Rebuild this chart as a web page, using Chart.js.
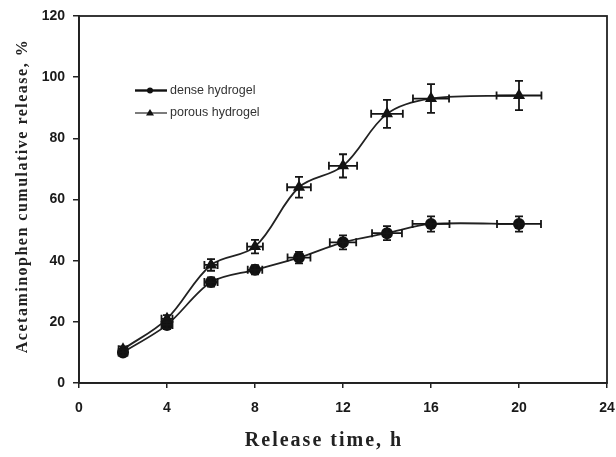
<!DOCTYPE html>
<html>
<head>
<meta charset="utf-8">
<script src="https://cdn.jsdelivr.net/npm/chart.js@4.4.1/dist/chart.umd.min.js"></script>
<style>
  html, body { margin: 0; padding: 0; background: #fff; }
  #wrap { width: 616px; height: 457px; position: relative; }
</style>
</head>
<body>
<div id="wrap"><canvas id="chart"></canvas></div>
<script>
// release time (h)
var hours = [2, 4, 6, 8, 10, 12, 14, 16, 20];

// cumulative release (%)
var denseRelease  = [10, 19, 33, 37, 41, 46, 49, 52, 52];
var porousRelease = [11, 21, 38.6, 44.6, 64, 71, 88, 93, 94];

// error bars (y in %, x in h)
var denseErrY  = [1, 1.2, 1.5, 1.5, 1.9, 2.3, 2.3, 2.5, 2.5];
var denseErrX  = [0.2, 0.25, 0.3, 0.33, 0.52, 0.6, 0.68, 0.84, 1.0];
var porousErrY = [1, 1.2, 1.9, 2.2, 3.4, 3.8, 4.6, 4.7, 4.8];
var porousErrX = [0.2, 0.25, 0.3, 0.36, 0.54, 0.64, 0.72, 0.82, 1.02];

var xTicks = [0, 4, 8, 12, 16, 20, 24];
var yTicks = [0, 20, 40, 60, 80, 100, 120];

var legendNames = ["dense hydrogel", "porous hydrogel"];

function pts(xs, ys) {
    return xs.map(function (x, i) { return { x: x, y: ys[i] }; });
}

// error bars drawn through the chart scales
var errorBars = {
    id: "errorBars",
    afterDatasetsDraw: function (chart) {
        var ctx = chart.ctx, xs = chart.scales.x, ys = chart.scales.y;
        var sets = [
            { v: denseRelease,  ex: denseErrX,  ey: denseErrY },
            { v: porousRelease, ex: porousErrX, ey: porousErrY }
        ];
        ctx.save();
        ctx.strokeStyle = "#151515";
        ctx.lineWidth = 1.8;
        sets.forEach(function (s) {
            hours.forEach(function (h, i) {
                var px = xs.getPixelForValue(h), py = ys.getPixelForValue(s.v[i]);
                var x0 = xs.getPixelForValue(h - s.ex[i]), x1 = xs.getPixelForValue(h + s.ex[i]);
                var y0 = ys.getPixelForValue(s.v[i] - s.ey[i]), y1 = ys.getPixelForValue(s.v[i] + s.ey[i]);
                ctx.beginPath();
                ctx.moveTo(x0, py); ctx.lineTo(x1, py);
                ctx.moveTo(x0, py - 4); ctx.lineTo(x0, py + 4);
                ctx.moveTo(x1, py - 4); ctx.lineTo(x1, py + 4);
                ctx.moveTo(px, y0); ctx.lineTo(px, y1);
                ctx.moveTo(px - 4, y0); ctx.lineTo(px + 4, y0);
                ctx.moveTo(px - 4, y1); ctx.lineTo(px + 4, y1);
                ctx.stroke();
            });
        });
        ctx.restore();
    }
};

// frame, legend and axis titles
var decor = {
    id: "decor",
    afterDraw: function (chart) {
        var ctx = chart.ctx, a = chart.chartArea;
        ctx.save();
        ctx.strokeStyle = "#222";
        ctx.lineWidth = 1.8;
        ctx.strokeRect(a.left, a.top, a.right - a.left, a.bottom - a.top);

        // legend inside plot
        ctx.font = "12.5px 'Liberation Sans', Arial, sans-serif";
        ctx.textBaseline = "middle";
        var lx = 135, ly = [90.5, 113];
        legendNames.forEach(function (name, i) {
            ctx.strokeStyle = i === 0 ? "#111" : "#444";
            ctx.lineWidth = i === 0 ? 2.4 : 1.4;
            ctx.beginPath(); ctx.moveTo(lx, ly[i]); ctx.lineTo(lx + 32, ly[i]); ctx.stroke();
            ctx.fillStyle = "#111";
            ctx.beginPath();
            if (i === 0) {
                ctx.arc(lx + 15, ly[i], 3, 0, Math.PI * 2);
            } else {
                ctx.moveTo(lx + 15, ly[i] - 4); ctx.lineTo(lx + 19, ly[i] + 2.5); ctx.lineTo(lx + 11, ly[i] + 2.5);
                ctx.closePath();
            }
            ctx.fill();
            ctx.fillStyle = "#333";
            ctx.textAlign = "left";
            ctx.fillText(name, lx + 35, ly[i]);
        });

        // axis titles
        ctx.fillStyle = "#222";
        ctx.font = "bold 20px 'Liberation Serif', 'Times New Roman', serif";
        ctx.letterSpacing = "2px";
        ctx.textAlign = "center";
        ctx.textBaseline = "alphabetic";
        ctx.fillText("Release time, h", 324, 446);

        ctx.font = "bold 16px 'Liberation Serif', 'Times New Roman', serif";
        ctx.letterSpacing = "1.5px";
        ctx.translate(27, 196);
        ctx.rotate(-Math.PI / 2);
        ctx.fillText("Acetaminophen cumulative release, %", 0, 0);
        ctx.restore();
    }
};

new Chart(document.getElementById("chart").getContext("2d"), {
    type: "line",
    data: {
        datasets: [
            {
                label: legendNames[0],
                data: pts(hours, denseRelease),
                borderColor: "#222",
                borderWidth: 1.8,
                backgroundColor: "#111",
                pointStyle: "circle",
                pointRadius: 6,
                pointBorderWidth: 0,
                tension: 0.3
            },
            {
                label: legendNames[1],
                data: pts(hours, porousRelease),
                borderColor: "#222",
                borderWidth: 1.8,
                backgroundColor: "#111",
                pointStyle: "triangle",
                pointRadius: 7,
                pointBorderWidth: 0,
                tension: 0.35
            }
        ]
    },
    options: {
        responsive: true,
        maintainAspectRatio: false,
        animation: false,
        layout: { padding: { top: 16, right: 9, left: 0, bottom: 0 } },
        plugins: {
            legend: { display: false },
            tooltip: { enabled: false }
        },
        scales: {
            x: {
                type: "linear",
                min: 0,
                max: 24,
                afterBuildTicks: function (s) { s.ticks = xTicks.map(function (v) { return { value: v }; }); },
                afterFit: function (s) { s.height = 74; s.paddingLeft = 0; s.paddingRight = 0; },
                grid: { drawOnChartArea: false, drawTicks: true, tickLength: 5, color: "#222", lineWidth: 1.5 },
                border: { display: true, color: "#222", width: 1.8 },
                ticks: {
                    color: "#1a1a1a",
                    padding: 12,
                    font: { family: "'Liberation Sans', Arial, sans-serif", size: 14, weight: "bold" }
                }
            },
            y: {
                min: 0,
                max: 120,
                afterBuildTicks: function (s) { s.ticks = yTicks.map(function (v) { return { value: v }; }); },
                afterFit: function (s) { s.width = 79; s.paddingTop = 0; s.paddingBottom = 0; },
                grid: { drawOnChartArea: false, drawTicks: true, tickLength: 6, color: "#222", lineWidth: 1.5 },
                border: { display: true, color: "#222", width: 1.8 },
                ticks: {
                    color: "#1a1a1a",
                    padding: 8,
                    font: { family: "'Liberation Sans', Arial, sans-serif", size: 14, weight: "bold" }
                }
            }
        }
    },
    plugins: [errorBars, decor]
});
</script>
</body>
</html>
